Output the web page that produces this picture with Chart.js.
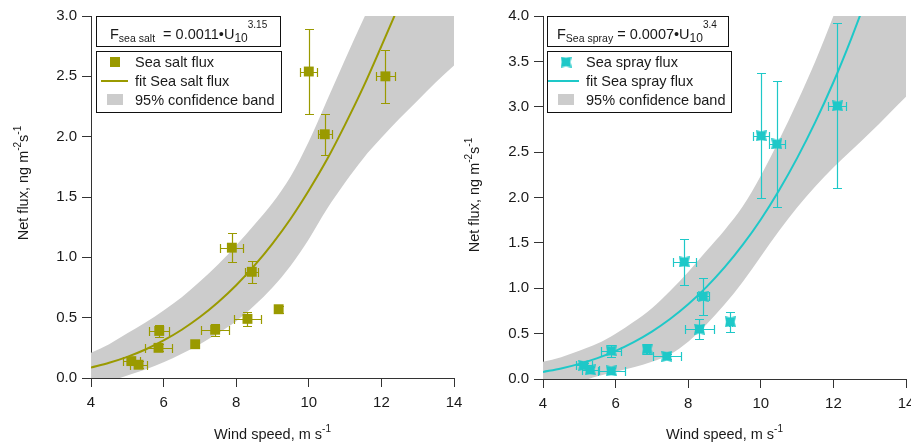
<!DOCTYPE html>
<html lang="en">
<head>
<meta charset="UTF-8" />
<title>Sea salt and sea spray flux vs wind speed</title>
<style>
  * {margin:0; padding:0; box-sizing:border-box;}
  html, body {width:911px; height:443px; overflow:hidden; background:#fff;}
  .panel {position:absolute; top:0;}
  #left {left:0;}
  #right {left:451px;}
</style>
</head>
<body>

<div class="panel" id="left"><canvas id="saltChart" width="470" height="443" style="width:470px;height:443px"></canvas></div>
<div class="panel" id="right"><canvas id="sprayChart" width="480" height="443" style="width:480px;height:443px"></canvas></div>

<script src="https://cdn.jsdelivr.net/npm/chart.js"></script>
<script>
  // ---- data ----
  const saltWind    = [5.11, 5.31, 5.88, 5.86, 6.87, 7.42, 7.88, 8.43, 8.31, 9.17, 10.00, 10.44, 12.11];
  const saltFlux    = [0.14, 0.11, 0.39, 0.25, 0.28, 0.40, 1.08, 0.88, 0.49, 0.57, 2.54, 2.02, 2.50];
  const saltWindErr = [0.23, 0.23, 0.28, 0.37, 0.04, 0.38, 0.32, 0.18, 0.38, 0.04, 0.23, 0.20, 0.26];
  const saltFluxErr = [0.03, 0.03, 0.05, 0.03, 0.02, 0.05, 0.12, 0.09, 0.06, 0.03, 0.35, 0.17, 0.22];

  const sprayWind    = [5.12, 5.30, 5.88, 5.88, 6.87, 7.41, 7.89, 8.41, 8.31, 9.16, 10.01, 10.44, 12.11];
  const sprayFlux    = [0.15, 0.10, 0.31, 0.09, 0.33, 0.25, 1.29, 0.91, 0.55, 0.63, 2.68, 2.59, 3.01];
  const sprayWindErr = [0.22, 0.23, 0.28, 0.37, 0.04, 0.38, 0.32, 0.17, 0.39, 0.04, 0.22, 0.22, 0.25];
  const sprayFluxErr = [0.03, 0.03, 0.07, 0.03, 0.06, 0.03, 0.25, 0.20, 0.11, 0.11, 0.69, 0.69, 0.91];

  // fit curves
  const saltFitWind  = [4, 4.5, 5, 5.5, 6, 6.5, 7, 7.5, 8, 8.5, 9, 9.5, 10, 10.5, 11, 11.5, 12, 12.5];
  const saltFit      = [0.087, 0.126, 0.175, 0.236, 0.311, 0.400, 0.505, 0.628, 0.769, 0.931, 1.114, 1.32, 1.554, 1.81, 2.10, 2.41, 2.75, 3.10];
  const sprayFitWind = [4, 4.5, 5, 5.5, 6, 6.5, 7, 7.5, 8, 8.5, 9, 9.5, 10, 10.5, 11, 11.5, 12, 12.5, 13];
  const sprayFit     = [0.078, 0.116, 0.167, 0.230, 0.310, 0.407, 0.523, 0.661, 0.823, 1.012, 1.229, 1.477, 1.758, 2.077, 2.434, 2.83, 3.27, 3.76, 4.29];

  // 95% confidence bands (edges run past the axes and get clipped)
  const bandWind   = [4, 4.5, 5, 5.5, 6, 6.5, 7, 7.5, 8, 8.5, 9, 9.5, 10, 10.5, 11, 11.5, 12, 12.5, 13, 13.5, 14];
  const saltUpper  = [0.21, 0.28, 0.37, 0.46, 0.56, 0.67, 0.80, 0.94, 1.10, 1.27, 1.45, 1.67, 1.96, 2.30, 2.64, 2.97, 3.30, 3.65, 4.0, 4.4, 4.8];
  const saltLower  = [-0.09, -0.03, 0.02, 0.07, 0.13, 0.20, 0.28, 0.37, 0.47, 0.60, 0.75, 0.93, 1.15, 1.40, 1.62, 1.82, 1.99, 2.15, 2.30, 2.45, 2.59];
  const sprayUpper = [0.19, 0.24, 0.31, 0.39, 0.50, 0.63, 0.78, 0.97, 1.18, 1.41, 1.64, 1.90, 2.24, 2.63, 3.05, 3.50, 4.00, 4.55, 5.1, 5.7, 6.3];
  const sprayLower = [-0.12, -0.07, -0.03, 0.03, 0.08, 0.13, 0.19, 0.27, 0.41, 0.60, 0.82, 1.07, 1.35, 1.63, 1.89, 2.12, 2.33, 2.52, 2.71, 2.91, 3.11];

  const xTicks = [4, 6, 8, 10, 12, 14];

  // ---- styling ----
  const FONT = "'Liberation Sans', Arial, sans-serif";
  const OLIVE = '#9a9a00';
  const CYAN = '#1ec8c8';
  const BAND = '#cccccc';
  const AXIS = '#333333';
  const TEXT = '#1a1a1a';

  function pts(xs, ys) { return xs.map((x, i) => ({x: x, y: ys[i]})); }

  // slightly pinched square used for the sea spray points
  function sprayMarker() {
    const c = document.createElement('canvas');
    c.width = 11; c.height = 11;
    const g = c.getContext('2d');
    const p = [[0,0],[5.5,1.2],[11,0],[9.8,5.5],[11,11],[5.5,9.8],[0,11],[1.2,5.5]];
    g.fillStyle = CYAN;
    g.beginPath();
    p.forEach(([x, y], i) => i ? g.lineTo(x, y) : g.moveTo(x, y));
    g.closePath();
    g.fill();
    return c;
  }

  // text made of pieces: [text, size, dy]
  function richWidth(ctx, parts) {
    let w = 0;
    parts.forEach(([t, size]) => { ctx.font = size + 'px ' + FONT; w += ctx.measureText(t).width; });
    return w;
  }
  function drawRich(ctx, parts, x, y) {
    let cx = x;
    parts.forEach(([t, size, dy]) => {
      ctx.font = size + 'px ' + FONT;
      ctx.fillText(t, cx, y + (dy || 0));
      cx += ctx.measureText(t).width;
    });
  }

  const xTitle = [['Wind speed, m s', 14.5, 0], ['-1', 10, -7]];
  const yTitle = [['Net flux, ng m', 14.5, 0], ['-2', 10, -7], ['s', 14.5, 0], ['-1', 10, -7]];

  // error bars drawn just before the point dataset
  const errorBars = {
    id: 'errorBars',
    beforeDatasetDraw(chart, args) {
      const ds = chart.data.datasets[args.index];
      if (!ds.xErr) return;
      const ctx = chart.ctx, x = chart.scales.x, y = chart.scales.y;
      const cap = 4.5;
      const r = v => Math.round(v) + 0.5;
      ctx.save();
      ctx.strokeStyle = ds.errColor;
      ctx.globalAlpha = 1;
      ctx.lineWidth = 1.2;
      ctx.beginPath();
      ds.data.forEach((p, i) => {
        const px = r(x.getPixelForValue(p.x)), py = r(y.getPixelForValue(p.y));
        const x0 = r(x.getPixelForValue(p.x - ds.xErr[i])), x1 = r(x.getPixelForValue(p.x + ds.xErr[i]));
        const y0 = r(y.getPixelForValue(p.y - ds.yErr[i])), y1 = r(y.getPixelForValue(p.y + ds.yErr[i]));
        ctx.moveTo(x0, py); ctx.lineTo(x1, py);
        ctx.moveTo(x0, py - cap); ctx.lineTo(x0, py + cap);
        ctx.moveTo(x1, py - cap); ctx.lineTo(x1, py + cap);
        ctx.moveTo(px, y0); ctx.lineTo(px, y1);
        ctx.moveTo(px - cap, y0); ctx.lineTo(px + cap, y0);
        ctx.moveTo(px - cap, y1); ctx.lineTo(px + cap, y1);
      });
      ctx.stroke();
      ctx.restore();
    }
  };

  // formula box, legend box and axis titles
  const panelDecor = {
    id: 'panelDecor',
    afterDraw(chart) {
      const o = chart.options.plugins.panelDecor;
      const ctx = chart.ctx, ca = chart.chartArea;
      const bx = ca.left + o.boxOffset;
      ctx.save();
      ctx.textBaseline = 'alphabetic';

      // formula box
      ctx.fillStyle = '#fff';
      ctx.fillRect(bx, ca.top, o.formulaW, 30);
      ctx.strokeStyle = '#111';
      ctx.lineWidth = 1;
      ctx.strokeRect(bx + 0.5, ca.top + 0.5, o.formulaW, 30);
      ctx.fillStyle = TEXT;
      drawRich(ctx, o.formula, bx + o.formulaX, ca.top + 23);

      // legend box
      const ly = ca.top + 35;
      ctx.fillStyle = '#fff';
      ctx.fillRect(bx, ly, o.legendW, 61);
      ctx.strokeRect(bx + 0.5, ly + 0.5, o.legendW, 61);
      if (o.marker === 'rect') {
        ctx.fillStyle = o.color;
        ctx.fillRect(bx + 14, ly + 6, 10, 10);
      } else {
        ctx.drawImage(o.marker, bx + 13.5, ly + 5.5);
      }
      ctx.strokeStyle = o.color;
      ctx.lineWidth = 2;
      ctx.beginPath();
      ctx.moveTo(bx + o.lineX0, ly + 30); ctx.lineTo(bx + 32, ly + 30);
      ctx.stroke();
      ctx.fillStyle = BAND;
      ctx.fillRect(bx + 11, ly + 43, 16, 11);
      ctx.fillStyle = TEXT;
      ctx.font = '14.5px ' + FONT;
      o.names.forEach((n, i) => ctx.fillText(n, bx + 39, ly + 16 + i * 19));

      // axis titles
      const xc = (ca.left + ca.right) / 2;
      drawRich(ctx, xTitle, xc - richWidth(ctx, xTitle) / 2, 439);
      ctx.translate(28, o.yTitleY);
      ctx.rotate(-Math.PI / 2);
      drawRich(ctx, yTitle, -richWidth(ctx, yTitle) / 2, 0);
      ctx.restore();
    }
  };

  function makePanel(id, p) {
    return new Chart(document.getElementById(id), {
      type: 'line',
      data: {
        datasets: [
          {data: pts(bandWind, p.upper), fill: '+1', backgroundColor: BAND, borderWidth: 0,
           borderColor: 'transparent', pointRadius: 0, cubicInterpolationMode: 'monotone', clip: 0, order: 3},
          {data: pts(bandWind, p.lower), fill: false, borderWidth: 0, borderColor: 'transparent',
           pointRadius: 0, cubicInterpolationMode: 'monotone', clip: 0, order: 2},
          {data: pts(p.fitWind, p.fit), fill: false, borderColor: p.color, borderWidth: 2,
           pointRadius: 0, cubicInterpolationMode: 'monotone', clip: 0, order: 1},
          {data: pts(p.wind, p.flux), showLine: false, backgroundColor: p.color, borderWidth: 0,
           pointStyle: p.marker, pointRadius: 7, xErr: p.windErr, yErr: p.fluxErr, errColor: p.color, order: 0}
        ]
      },
      options: {
        responsive: false,
        devicePixelRatio: 1,
        animation: false,
        events: [],
        layout: {padding: {left: 0, right: p.padRight, top: 16, bottom: 0}},
        plugins: {
          legend: {display: false},
          tooltip: {enabled: false},
          panelDecor: p.decor
        },
        scales: {
          x: {
            type: 'linear', min: 4, max: 14,
            afterBuildTicks: s => { s.ticks = xTicks.map(v => ({value: v})); },
            ticks: {color: TEXT, font: {family: FONT, size: 15}, padding: 7, maxRotation: 0},
            grid: {drawOnChartArea: false, tickLength: 9, color: AXIS},
            border: {color: AXIS, width: 1},
            afterFit: s => { s.height = p.xHeight; }
          },
          y: {
            min: 0, max: p.yMax,
            ticks: {stepSize: 0.5, color: TEXT, font: {family: FONT, size: 15}, padding: 5,
                    callback: v => v.toFixed(1)},
            grid: {drawOnChartArea: false, tickLength: 9, color: AXIS},
            border: {color: AXIS, width: 1},
            afterFit: s => { s.width = p.yWidth; }
          }
        }
      },
      plugins: [errorBars, panelDecor]
    });
  }

  makePanel('saltChart', {
    wind: saltWind, flux: saltFlux, windErr: saltWindErr, fluxErr: saltFluxErr,
    fitWind: saltFitWind, fit: saltFit, upper: saltUpper, lower: saltLower,
    color: OLIVE, marker: 'rect', yMax: 3, padRight: 16, xHeight: 65, yWidth: 91,
    decor: {
      color: OLIVE, marker: 'rect', boxOffset: 5, formulaW: 184, legendW: 185, formulaX: 14,
      lineX0: 5, yTitleY: 183,
      formula: [['F', 14.5, 0], ['sea salt', 10.5, 3], ['  = 0.0011•U', 14.5, 0], ['10', 12, 3], ['3.15', 10, -11]],
      names: ['Sea salt flux', 'fit Sea salt flux', '95% confidence band']
    }
  });

  const sprayIcon = sprayMarker();
  makePanel('sprayChart', {
    wind: sprayWind, flux: sprayFlux, windErr: sprayWindErr, fluxErr: sprayFluxErr,
    fitWind: sprayFitWind, fit: sprayFit, upper: sprayUpper, lower: sprayLower,
    color: CYAN, marker: sprayIcon, yMax: 4, padRight: 25, xHeight: 64, yWidth: 92,
    decor: {
      color: CYAN, marker: sprayIcon, boxOffset: 4, formulaW: 181, legendW: 184, formulaX: 10,
      lineX0: 1, yTitleY: 195,
      formula: [['F', 14.5, 0], ['Sea spray', 10.5, 3], [' = 0.0007•U', 14.5, 0], ['10', 12, 3], ['3.4', 10, -11]],
      names: ['Sea spray flux', 'fit Sea spray flux', '95% confidence band']
    }
  });
</script>
</body>
</html>
